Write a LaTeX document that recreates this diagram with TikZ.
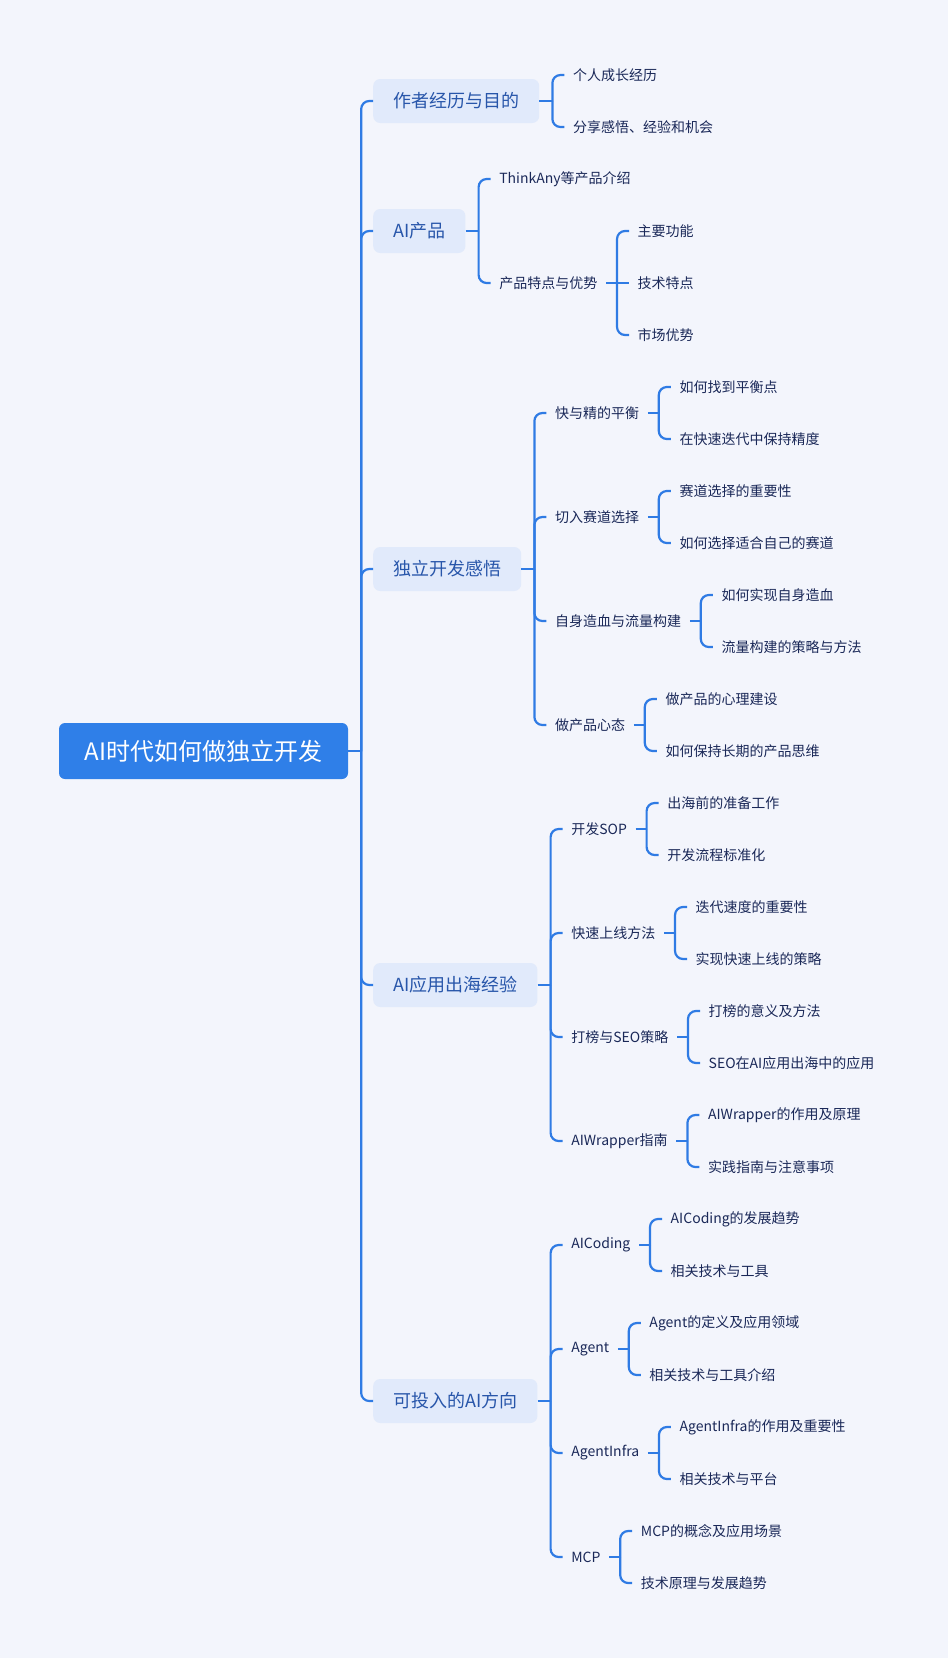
\documentclass[tikz,border=0pt]{standalone}
\usepackage{fontspec}
\setmainfont{Noto Sans CJK SC}
\usetikzlibrary{calc}
\definecolor{bgc}{HTML}{F3F5FC}
\definecolor{rootblue}{HTML}{2F7FE8}
\definecolor{boxblue}{HTML}{E1EAFB}
\definecolor{loneText}{HTML}{2856AA}
\definecolor{leafText}{HTML}{1A2858}
\definecolor{lineblue}{HTML}{2F7BE4}
\begin{document}
\begin{tikzpicture}[x=1pt,y=-1pt,
  conn/.style={draw=lineblue, line width=2.2pt, rounded corners=8pt},
  rootbox/.style={fill=rootblue, text=white, rounded corners=6pt, font=\fontsize{24}{29}\selectfont, minimum height=56pt, minimum width=289pt, inner xsep=12pt, inner ysep=0pt},
  lonebox/.style={fill=boxblue, text=loneText, rounded corners=7pt, font=\fontsize{18}{22}\selectfont, minimum height=44pt, inner xsep=20pt, inner ysep=0pt, anchor=west},
  leaf/.style={text=leafText, font=\fontsize{14}{17}\selectfont, inner xsep=8.5pt, inner ysep=2pt, anchor=west, xshift=12pt}]
\fill[bgc] (0,0) rectangle (948,1658);
\useasboundingbox (0,0) rectangle (948,1658);

% root
\node[rootbox] (root) at (203.5,751) {AI时代如何做独立开发};
\draw[conn] (root.east) -- ++(13,0) coordinate (rj);

% level 1
\node[lonebox] (a) at (373,101) {作者经历与目的};
\node[lonebox] (b) at (373,231) {AI产品};
\node[lonebox] (c) at (373,569) {独立开发感悟};
\node[lonebox] (d) at (373,985) {AI应用出海经验};
\node[lonebox] (e) at (373,1401) {可投入的AI方向};
\foreach \n in {a,b,c,d,e} \draw[conn] (rj) |- (\n.west);

% a
\draw[conn] (a.east) -- ++(13,0) coordinate (aj);
\node[leaf] (a1) at (aj |- 0,75) {个人成长经历};
\node[leaf] (a2) at (aj |- 0,127) {分享感悟、经验和机会};
\foreach \n in {a1,a2} \draw[conn] (aj) |- (\n.west);

% b
\draw[conn] (b.east) -- ++(13,0) coordinate (bj);
\node[leaf] (b1) at (bj |- 0,179) {ThinkAny等产品介绍};
\node[leaf] (b2) at (bj |- 0,283) {产品特点与优势};
\foreach \n in {b1,b2} \draw[conn] (bj) |- (\n.west);
\draw[conn] (b2.east) -- ++(11,0) coordinate (b2j);
\node[leaf] (b21) at (b2j |- 0,231) {主要功能};
\node[leaf] (b22) at (b2j |- 0,283) {技术特点};
\node[leaf] (b23) at (b2j |- 0,335) {市场优势};
\foreach \n in {b21,b23} \draw[conn] (b2j) |- (\n.west);
\draw[conn] (b2j) -- (b22.west);

% c
\draw[conn] (c.east) -- ++(13,0) coordinate (cj);
\node[leaf] (c1) at (cj |- 0,413) {快与精的平衡};
\node[leaf] (c2) at (cj |- 0,517) {切入赛道选择};
\node[leaf] (c3) at (cj |- 0,621) {自身造血与流量构建};
\node[leaf] (c4) at (cj |- 0,725) {做产品心态};
\foreach \n in {c1,c2,c3,c4} \draw[conn] (cj) |- (\n.west);
\draw[conn] (c1.east) -- ++(11,0) coordinate (c1j);
\node[leaf] (c11) at (c1j |- 0,387) {如何找到平衡点};
\node[leaf] (c12) at (c1j |- 0,439) {在快速迭代中保持精度};
\foreach \n in {c11,c12} \draw[conn] (c1j) |- (\n.west);
\draw[conn] (c2.east) -- ++(11,0) coordinate (c2j);
\node[leaf] (c21) at (c2j |- 0,491) {赛道选择的重要性};
\node[leaf] (c22) at (c2j |- 0,543) {如何选择适合自己的赛道};
\foreach \n in {c21,c22} \draw[conn] (c2j) |- (\n.west);
\draw[conn] (c3.east) -- ++(11,0) coordinate (c3j);
\node[leaf] (c31) at (c3j |- 0,595) {如何实现自身造血};
\node[leaf] (c32) at (c3j |- 0,647) {流量构建的策略与方法};
\foreach \n in {c31,c32} \draw[conn] (c3j) |- (\n.west);
\draw[conn] (c4.east) -- ++(11,0) coordinate (c4j);
\node[leaf] (c41) at (c4j |- 0,699) {做产品的心理建设};
\node[leaf] (c42) at (c4j |- 0,751) {如何保持长期的产品思维};
\foreach \n in {c41,c42} \draw[conn] (c4j) |- (\n.west);

% d
\draw[conn] (d.east) -- ++(13,0) coordinate (dj);
\node[leaf] (d1) at (dj |- 0,829) {开发SOP};
\node[leaf] (d2) at (dj |- 0,933) {快速上线方法};
\node[leaf] (d3) at (dj |- 0,1037) {打榜与SEO策略};
\node[leaf] (d4) at (dj |- 0,1141) {AIWrapper指南};
\foreach \n in {d1,d2,d3,d4} \draw[conn] (dj) |- (\n.west);
\draw[conn] (d1.east) -- ++(11,0) coordinate (d1j);
\node[leaf] (d11) at (d1j |- 0,803) {出海前的准备工作};
\node[leaf] (d12) at (d1j |- 0,855) {开发流程标准化};
\foreach \n in {d11,d12} \draw[conn] (d1j) |- (\n.west);
\draw[conn] (d2.east) -- ++(11,0) coordinate (d2j);
\node[leaf] (d21) at (d2j |- 0,907) {迭代速度的重要性};
\node[leaf] (d22) at (d2j |- 0,959) {实现快速上线的策略};
\foreach \n in {d21,d22} \draw[conn] (d2j) |- (\n.west);
\draw[conn] (d3.east) -- ++(11,0) coordinate (d3j);
\node[leaf] (d31) at (d3j |- 0,1011) {打榜的意义及方法};
\node[leaf] (d32) at (d3j |- 0,1063) {SEO在AI应用出海中的应用};
\foreach \n in {d31,d32} \draw[conn] (d3j) |- (\n.west);
\draw[conn] (d4.east) -- ++(11,0) coordinate (d4j);
\node[leaf] (d41) at (d4j |- 0,1115) {AIWrapper的作用及原理};
\node[leaf] (d42) at (d4j |- 0,1167) {实践指南与注意事项};
\foreach \n in {d41,d42} \draw[conn] (d4j) |- (\n.west);

% e
\draw[conn] (e.east) -- ++(13,0) coordinate (ej);
\node[leaf] (e1) at (ej |- 0,1245) {AICoding};
\node[leaf] (e2) at (ej |- 0,1349) {Agent};
\node[leaf] (e3) at (ej |- 0,1453) {AgentInfra};
\node[leaf] (e4) at (ej |- 0,1557) {MCP};
\foreach \n in {e1,e2,e3,e4} \draw[conn] (ej) |- (\n.west);
\draw[conn] (e1.east) -- ++(11,0) coordinate (e1j);
\node[leaf] (e11) at (e1j |- 0,1219) {AICoding的发展趋势};
\node[leaf] (e12) at (e1j |- 0,1271) {相关技术与工具};
\foreach \n in {e11,e12} \draw[conn] (e1j) |- (\n.west);
\draw[conn] (e2.east) -- ++(11,0) coordinate (e2j);
\node[leaf] (e21) at (e2j |- 0,1323) {Agent的定义及应用领域};
\node[leaf] (e22) at (e2j |- 0,1375) {相关技术与工具介绍};
\foreach \n in {e21,e22} \draw[conn] (e2j) |- (\n.west);
\draw[conn] (e3.east) -- ++(11,0) coordinate (e3j);
\node[leaf] (e31) at (e3j |- 0,1427) {AgentInfra的作用及重要性};
\node[leaf] (e32) at (e3j |- 0,1479) {相关技术与平台};
\foreach \n in {e31,e32} \draw[conn] (e3j) |- (\n.west);
\draw[conn] (e4.east) -- ++(11,0) coordinate (e4j);
\node[leaf] (e41) at (e4j |- 0,1531) {MCP的概念及应用场景};
\node[leaf] (e42) at (e4j |- 0,1583) {技术原理与发展趋势};
\foreach \n in {e41,e42} \draw[conn] (e4j) |- (\n.west);
\end{tikzpicture}
\end{document}
